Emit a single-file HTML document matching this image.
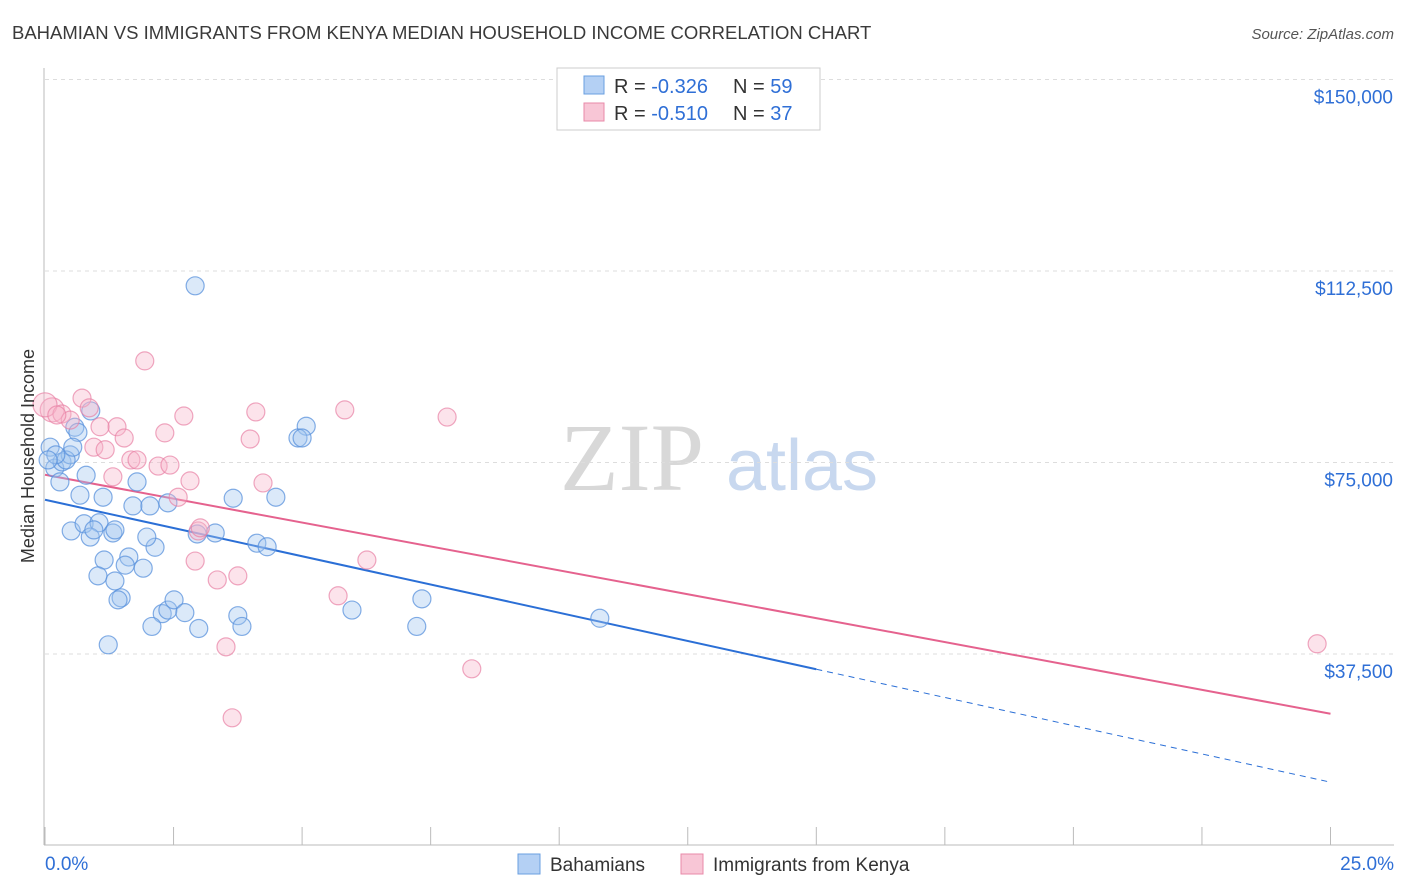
<!DOCTYPE html>
<html><head><meta charset="utf-8"><style>
body{margin:0;background:#fff;font-family:"Liberation Sans",sans-serif;}
svg{display:block}
</style></head><body>
<svg id="c" width="1406" height="892" xmlns="http://www.w3.org/2000/svg">
<text x="12" y="39" font-size="18.5" fill="#3a3a3a">BAHAMIAN VS IMMIGRANTS FROM KENYA MEDIAN HOUSEHOLD INCOME CORRELATION CHART</text>
<text x="1394" y="39" font-size="15" fill="#555" font-style="italic" text-anchor="end">Source: ZipAtlas.com</text>
<g>
<text x="632" y="490" font-size="96" font-family="Liberation Serif,serif" fill="#d8d8d8" text-anchor="middle">ZIP</text>
<text x="802" y="490" font-size="72" fill="#c8d8ef" text-anchor="middle">atlas</text>
</g>
<g id="grid"></g>
<g id="axes"></g>
<g id="lines"></g>
<g id="pts"></g>
<text transform="translate(34,456) rotate(-90)" font-size="18" fill="#333" text-anchor="middle">Median Household Income</text>
<g>
<rect x="557" y="68" width="263" height="62" fill="#fff" stroke="#ccc"/>
<rect x="584" y="76" width="20" height="18" fill="#b4d0f4" stroke="#6a9fe0"/>
<text x="614" y="93" font-size="20" fill="#333">R = <tspan fill="#2f6fd6">-0.326</tspan></text>
<text x="733" y="93" font-size="20" fill="#333">N = <tspan fill="#2f6fd6">59</tspan></text>
<rect x="584" y="103" width="20" height="18" fill="#f8c6d6" stroke="#e88aa8"/>
<text x="614" y="120" font-size="20" fill="#333">R = <tspan fill="#2f6fd6">-0.510</tspan></text>
<text x="733" y="120" font-size="20" fill="#333">N = <tspan fill="#2f6fd6">37</tspan></text>
</g>
<g>
<rect x="518" y="854" width="22" height="20" fill="#b4d0f4" stroke="#6a9fe0"/>
<text x="550" y="871" font-size="19" fill="#333">Bahamians</text>
<rect x="681" y="854" width="22" height="20" fill="#f8c6d6" stroke="#e88aa8"/>
<text x="713" y="871" font-size="19" fill="#333">Immigrants from Kenya</text>
</g>
</svg>
<script>
const yTicks=[37500,75000,112500,150000];
const yTickLabels=["$37,500","$75,000","$112,500","$150,000"];
const xTickLabels=["0.0%","25.0%"];
const blueX=[.10,.19,.33,.49,.41,.29,.89,.58,.64,.54,.80,.68,1.13,.51,.76,1.05,.88,1.32,1.36,.95,1.79,1.71,2.04,2.39,3.66,4.49,2.14,1.98,1.63,1.15,1.56,1.91,1.03,1.36,1.48,1.42,2.28,2.39,2.51,2.72,2.08,2.99,3.75,3.83,3.31,2.96,4.12,4.32,2.92,5.08,4.92,5.00,5.97,7.33,7.23,1.23,10.79,.21,.06];
const blueY=[78.0,73.9,75.1,76.5,75.5,71.2,85.1,81.9,80.9,78.0,72.5,68.6,68.2,61.6,63.0,63.2,60.4,61.2,61.8,61.8,71.2,66.5,66.5,67.1,68.0,68.2,58.4,60.4,56.5,55.9,54.9,54.3,52.8,51.8,48.5,48.1,45.4,46.1,48.1,45.6,42.9,42.5,45.0,42.9,61.2,61.0,59.2,58.5,109.6,82.1,79.8,79.8,46.1,48.3,42.9,39.3,44.5,76.5,75.5];
const pinkX=[.14,0,.33,.49,.72,.86,.23,.95,1.17,1.40,1.54,1.07,1.94,1.32,1.67,1.79,2.20,2.33,2.43,2.59,2.82,2.70,2.98,4.10,3.99,4.24,3.75,3.35,2.92,3.02,5.83,7.82,6.26,5.70,3.52,8.30,3.64,24.74];
const pinkY=[85.3,86.3,84.5,83.3,87.6,85.7,84.3,78.0,77.5,82.0,79.8,82.0,94.9,72.2,75.5,75.5,74.3,80.8,74.5,68.2,71.4,84.1,61.6,84.9,79.6,71.0,52.8,52.0,55.7,62.2,85.3,83.9,55.9,48.9,38.9,34.6,25.0,39.5];
const blueTrend=[67.7,12.4];
const pinkTrend=[72.6,25.8];
const blueSolidEnd=15;
const NS="http://www.w3.org/2000/svg";
const X=p=>45+p*51.42;
const Y=v=>845.5-v/37500*191.5;
const Yk=v=>Y(v*1000);
function mk(t,a,p){const e=document.createElementNS(NS,t);for(const k in a)e.setAttribute(k,a[k]);p.appendChild(e);return e;}
const grid=document.getElementById('grid'),axes=document.getElementById('axes'),lines=document.getElementById('lines'),pts=document.getElementById('pts');
yTicks.forEach((t,i)=>{
 const l=mk('line',{x1:45,x2:1394,y1:Y(t),y2:Y(t),stroke:'#ddd','stroke-dasharray':'4,4'},grid);
 
 
 const tx=mk('text',{x:1393,y:Y(t)+24,'font-size':19,fill:'#2f6fd6','text-anchor':'end'},axes);
 tx.textContent=yTickLabels[i];
 
 
});
const ya=mk('line',{x1:44,x2:44,y1:68,y2:845,stroke:'#bbb'},axes);


const xa=mk('line',{x1:44,x2:1394,y1:845,y2:845,stroke:'#bbb'},axes);


for(let i=0;i<=10;i++){
 const tk=mk('line',{x1:X(i*2.5),x2:X(i*2.5),y1:827,y2:845,stroke:'#bbb'},axes);
 
 
}
[[0,'start',45],[25,'end',1394]].forEach((d,i)=>{
 const t=mk('text',{x:d[2],y:870,'font-size':19,fill:'#2f6fd6','text-anchor':d[1]},axes);
 t.textContent=xTickLabels[i];
 
 
});
function trendAt(tr,p){return tr[0]+(tr[1]-tr[0])*p/25;}
const bl=mk('line',{x1:X(0),y1:Yk(trendAt(blueTrend,0)),x2:X(blueSolidEnd),y2:Yk(trendAt(blueTrend,blueSolidEnd)),stroke:'#2b6fd6','stroke-width':2},lines);


const bd=mk('line',{x1:X(blueSolidEnd),y1:Yk(trendAt(blueTrend,blueSolidEnd)),x2:X(25),y2:Yk(trendAt(blueTrend,25)),stroke:'#2b6fd6','stroke-width':1,'stroke-dasharray':'6,5'},lines);


const pl=mk('line',{x1:X(0),y1:Yk(trendAt(pinkTrend,0)),x2:X(25),y2:Yk(trendAt(pinkTrend,25)),stroke:'#e5628e','stroke-width':2},lines);


blueX.forEach((x,i)=>{
 const c=mk('circle',{cx:X(x),cy:Yk(blueY[i]),r:9,fill:'rgba(160,196,240,0.38)',stroke:'rgba(90,145,220,0.75)','stroke-width':1.2},pts);
 
 
});
pinkX.forEach((x,i)=>{
 const c=mk('circle',{cx:X(x),cy:Yk(pinkY[i]),r:i<2?12:9,fill:'rgba(246,182,203,0.38)',stroke:'rgba(232,130,165,0.7)','stroke-width':1.2},pts);
 
 
});
</script>
</body></html>
